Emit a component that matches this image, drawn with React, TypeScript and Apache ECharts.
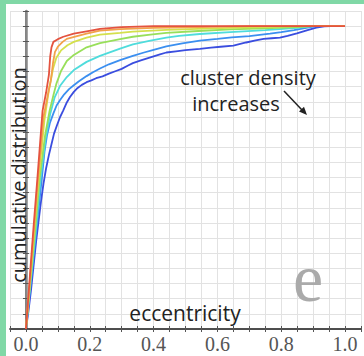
import React, { useEffect, useRef } from "react";
import * as echarts from "echarts";

// eccentricity (x), cumulative fraction (y)
const redPts: number[][] = [[0,0],[0.012,0.17],[0.024,0.34],[0.036,0.5],[0.052,0.72],[0.063,0.78],[0.072,0.84],[0.076,0.9],[0.08,0.93],[0.086,0.948],[0.1,0.957],[0.117,0.965],[0.15,0.975],[0.19,0.983],[0.232,0.991],[0.3,0.997],[0.4,1],[1,1]];
const orangePts: number[][] = [[0,0],[0.013,0.17],[0.026,0.34],[0.038,0.5],[0.055,0.7],[0.068,0.77],[0.078,0.82],[0.085,0.88],[0.091,0.915],[0.1,0.932],[0.115,0.948],[0.128,0.958],[0.16,0.967],[0.19,0.975],[0.232,0.985],[0.295,0.99],[0.4,0.994],[0.55,0.997],[0.7,1],[1,1]];
const yellowPts: number[][] = [[0,0],[0.014,0.17],[0.027,0.34],[0.04,0.5],[0.058,0.69],[0.072,0.79],[0.085,0.86],[0.095,0.895],[0.11,0.92],[0.13,0.937],[0.15,0.948],[0.19,0.962],[0.232,0.972],[0.295,0.978],[0.335,0.982],[0.44,0.988],[0.54,0.991],[0.64,0.994],[0.75,0.997],[0.85,1],[1,1]];
const greenPts: number[][] = [[0,0],[0.014,0.16],[0.029,0.33],[0.043,0.5],[0.06,0.64],[0.074,0.72],[0.086,0.772],[0.096,0.812],[0.11,0.852],[0.128,0.885],[0.15,0.905],[0.19,0.93],[0.232,0.944],[0.295,0.957],[0.335,0.965],[0.39,0.972],[0.44,0.978],[0.54,0.984],[0.64,0.989],[0.75,0.993],[0.85,0.997],[0.9,1],[1,1]];
const cyanPts: number[][] = [[0,0],[0.015,0.16],[0.031,0.33],[0.046,0.5],[0.062,0.63],[0.076,0.71],[0.09,0.765],[0.107,0.803],[0.128,0.832],[0.15,0.855],[0.19,0.882],[0.232,0.902],[0.295,0.926],[0.335,0.94],[0.39,0.952],[0.44,0.962],[0.48,0.968],[0.545,0.974],[0.64,0.98],[0.75,0.987],[0.85,0.994],[0.9,1],[1,1]];
const bluePts: number[][] = [[0,0],[0.017,0.17],[0.034,0.34],[0.05,0.5],[0.058,0.585],[0.066,0.64],[0.075,0.68],[0.086,0.712],[0.096,0.738],[0.107,0.756],[0.12,0.775],[0.135,0.792],[0.148,0.803],[0.165,0.817],[0.19,0.835],[0.21,0.848],[0.232,0.86],[0.26,0.874],[0.295,0.888],[0.335,0.902],[0.37,0.913],[0.4,0.922],[0.44,0.933],[0.49,0.943],[0.545,0.952],[0.6,0.958],[0.645,0.963],[0.7,0.967],[0.765,0.975],[0.8,0.98],[0.84,0.987],[0.87,0.993],[0.905,0.999],[0.93,1],[1,1]];
const darkBluePts: number[][] = [[0,0],[0.008,0.06],[0.016,0.13],[0.025,0.22],[0.032,0.29],[0.04,0.36],[0.047,0.42],[0.055,0.48],[0.063,0.53],[0.072,0.575],[0.08,0.61],[0.088,0.645],[0.097,0.672],[0.107,0.7],[0.117,0.722],[0.128,0.748],[0.138,0.766],[0.15,0.783],[0.162,0.796],[0.175,0.806],[0.19,0.815],[0.205,0.821],[0.22,0.828],[0.24,0.834],[0.26,0.843],[0.28,0.851],[0.3,0.859],[0.32,0.87],[0.335,0.878],[0.36,0.887],[0.39,0.897],[0.42,0.907],[0.44,0.913],[0.47,0.917],[0.5,0.921],[0.545,0.925],[0.58,0.929],[0.61,0.932],[0.65,0.936],[0.69,0.946],[0.72,0.953],[0.745,0.958],[0.77,0.96],[0.796,0.962],[0.82,0.968],[0.849,0.976],[0.88,0.986],[0.91,0.995],[0.935,0.999],[0.955,1],[1,1]];

const seriesNames = ["darkBlue", "blue", "cyan", "green", "yellow", "orange", "red"];
const seriesData = [darkBluePts, bluePts, cyanPts, greenPts, yellowPts, orangePts, redPts];
const seriesColors = ["#3a4ddf", "#3b8ff0", "#4fdcdc", "#98df5a", "#d4e04c", "#f2a24a", "#e4533f"];

const xTickLabels = ["0.0", "0.2", "0.4", "0.6", "0.8", "1.0"];
const xAxisName = "eccentricity";
const yAxisName = "cumulative distribution";
const noteLines = ["cluster density", "increases"];
const panelLetter = "e";

export default function App() {
  const ref = useRef<HTMLDivElement>(null);
  useEffect(() => {
    if (!ref.current) return;
    const chart = echarts.init(ref.current, null, { renderer: "svg" });
    const tickFmt = (v: number) => {
      const r = Math.round(v * 100);
      if (r >= 0 && r % 20 === 0) {
        const s = (r / 100).toFixed(1);
        return xTickLabels.includes(s) ? s : "";
      }
      return "";
    };
    const gridLine = { show: true, lineStyle: { color: "#e2e2e2", width: 1 } };
    const tick = { show: true, inside: true, length: 3, lineStyle: { color: "#555" } };
    const ax = { min: -0.05, max: 1.05, interval: 0.05, type: "value" as const };
    const ay = { min: 0, max: 1.05, interval: 0.05, type: "value" as const };
    const sans = "'Open Sans', 'Noto Sans', sans-serif";
    chart.setOption({
      animation: false,
      backgroundColor: "#ffffff",
      grid: { left: 10, right: 2, top: 11, bottom: 27 },
      xAxis: [
        {
          ...ax,
          position: "bottom",
          axisLine: { show: true, lineStyle: { color: "#444", width: 1.5 } },
          axisTick: tick,
          splitLine: gridLine,
          axisLabel: {
            formatter: tickFmt,
            fontFamily: "'Liberation Serif', serif",
            fontSize: 20,
            color: "#555",
            margin: 5,
            showMinLabel: true,
            showMaxLabel: true,
          },
        },
        {
          ...ax,
          position: "top",
          axisLine: { show: true, lineStyle: { color: "#444", width: 1.5 } },
          axisTick: tick,
          splitLine: { show: false },
          axisLabel: { show: false },
        },
      ],
      yAxis: [
        {
          ...ay,
          position: "left",
          axisLine: { show: true, lineStyle: { color: "#444", width: 1.5 } },
          axisTick: tick,
          splitLine: gridLine,
          axisLabel: { show: false },
        },
        {
          ...ay,
          position: "right",
          axisLine: { show: true, lineStyle: { color: "#888", width: 2.5 } },
          axisTick: tick,
          splitLine: { show: false },
          axisLabel: { show: false },
        },
      ],
      series: seriesData.map((d, i) => ({
        name: seriesNames[i],
        type: "line",
        data: d,
        xAxisIndex: 0,
        yAxisIndex: 0,
        showSymbol: false,
        symbol: "none",
        smooth: false,
        lineStyle: { color: seriesColors[i], width: 1.8 },
        z: 3 + i,
      })),
      graphic: [
        { type: "rect", left: 0, top: 0, shape: { width: 6, height: 356 }, style: { fill: "#80d8a6" }, z: 100 },
        { type: "rect", left: 0, top: 0, shape: { width: 364, height: 4 }, style: { fill: "#80d8a6" }, z: 100 },
        {
          type: "text", x: 18, y: 175, rotation: Math.PI / 2,
          style: { text: yAxisName, font: `20px ${sans}`, fill: "#222", textAlign: "center", textVerticalAlign: "middle" },
          z: 50,
        },
        {
          type: "text", x: 185, y: 313,
          style: { text: xAxisName, font: `21px ${sans}`, fill: "#222", textAlign: "center", textVerticalAlign: "middle" },
          z: 50,
        },
        {
          type: "text", x: 248, y: 77,
          style: { text: noteLines[0], font: `20px ${sans}`, fill: "#222", textAlign: "center", textVerticalAlign: "middle" },
          z: 50,
        },
        {
          type: "text", x: 236, y: 103,
          style: { text: noteLines[1], font: `20px ${sans}`, fill: "#222", textAlign: "center", textVerticalAlign: "middle" },
          z: 50,
        },
        {
          type: "line", shape: { x1: 284, y1: 91, x2: 302, y2: 110 },
          style: { stroke: "#222", lineWidth: 1.5 }, z: 50,
        },
        {
          type: "polygon", shape: { points: [[307, 115], [299, 111.6], [304, 106.8]] },
          style: { fill: "#222" }, z: 50,
        },
        {
          type: "text", x: 308, y: 278,
          style: { text: panelLetter, font: `68px 'Liberation Serif', serif`, fill: "#aaaaaa", textAlign: "center", textVerticalAlign: "middle" },
          z: 50,
        },
      ],
    });
    return () => chart.dispose();
  }, []);
  return (
    <div
      ref={ref}
      style={{ position: "absolute", left: 0, top: 0, width: 364, height: 356, background: "#fff" }}
    />
  );
}
